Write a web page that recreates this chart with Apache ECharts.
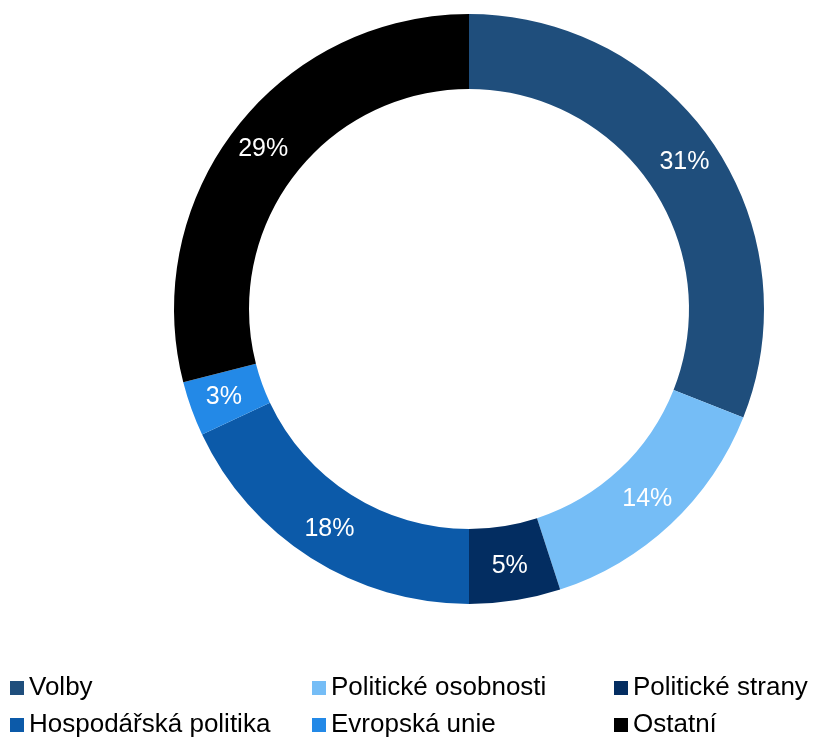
<!DOCTYPE html>
<html>
<head>
<meta charset="utf-8">
<script src="https://cdn.jsdelivr.net/npm/echarts@6/dist/echarts.min.js"></script>
<style>
  html, body { margin: 0; padding: 0; background: #ffffff; }
  #chart { width: 815px; height: 738px; }
</style>
</head>
<body>
<div id="chart"></div>
<script>
// Topic shares (percent)
var categories = ['Volby', 'Politické osobnosti', 'Politické strany', 'Hospodářská politika', 'Evropská unie', 'Ostatní'];
var shares = [31, 14, 5, 18, 3, 29];
var colors = ['#1F4E7C', '#75BDF6', '#032D61', '#0C5AA9', '#2389E7', '#000000'];

// Legend columns (two entries per column)
var legendColumns = [
  [categories[0], categories[3]],
  [categories[1], categories[4]],
  [categories[2], categories[5]]
];
var legendLeft = [10, 312, 614];

var chart = echarts.init(document.getElementById('chart'));

var legends = legendColumns.map(function (col, i) {
  return {
    data: col,
    orient: 'vertical',
    left: legendLeft[i],
    top: 675,
    itemGap: 11,
    itemWidth: 14,
    itemHeight: 14,
    icon: 'rect',
    padding: 0,
    selectedMode: false,
    textStyle: {
      fontFamily: 'Liberation Sans, Arial, sans-serif',
      fontSize: 26,
      color: '#000000'
    }
  };
});

chart.setOption({
  animation: false,
  color: colors,
  legend: legends,
  series: [{
    type: 'pie',
    center: [469, 309],
    radius: [220, 295],
    startAngle: 90,
    clockwise: true,
    avoidLabelOverlap: false,
    label: {
      show: true,
      position: 'inside',
      formatter: function (p) { return p.value + '%'; },
      color: '#ffffff',
      fontFamily: 'Liberation Sans, Arial, sans-serif',
      fontSize: 25
    },
    labelLine: { show: false },
    itemStyle: { borderWidth: 0 },
    emphasis: { disabled: true },
    data: categories.map(function (c, i) {
      return { name: c, value: shares[i] };
    })
  }]
});
</script>
</body>
</html>
